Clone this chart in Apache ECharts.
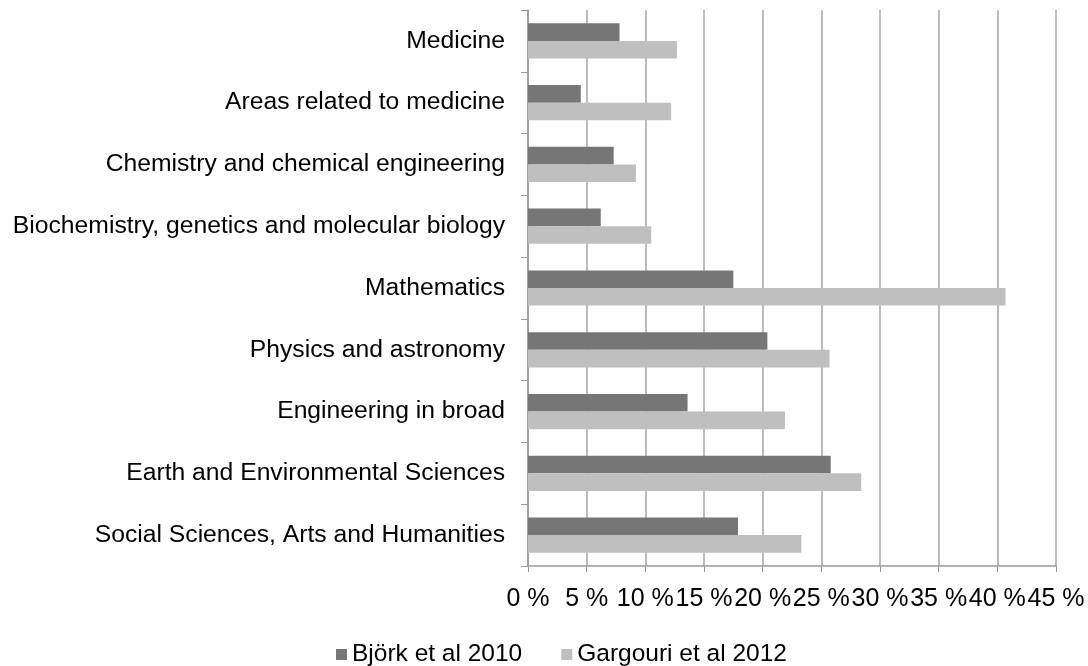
<!DOCTYPE html>
<html>
<head>
<meta charset="utf-8">
<script src="https://cdn.jsdelivr.net/npm/echarts@6/dist/echarts.min.js"></script>
<style>
html,body{margin:0;padding:0;background:#fff;}
#main{width:1088px;height:666px;}
</style>
</head>
<body>
<div id="main"></div>
<script>
// categories from top to bottom
var categories = ['Medicine', 'Areas related to medicine', 'Chemistry and chemical engineering',
    'Biochemistry, genetics and molecular biology', 'Mathematics', 'Physics and astronomy',
    'Engineering in broad', 'Earth and Environmental Sciences', 'Social Sciences, Arts and Humanities'];
var bjork2010 = [7.8, 4.5, 7.3, 6.2, 17.5, 20.4, 13.6, 25.8, 17.9];
var gargouri2012 = [12.7, 12.2, 9.2, 10.5, 40.7, 25.7, 21.9, 28.4, 23.3];
var seriesNames = ['Björk et al 2010', 'Gargouri et al 2012'];

var font = 'Liberation Sans, Arial, sans-serif';
var myChart = echarts.init(document.getElementById('main'));
var option = {
    animation: false,
    textStyle: {fontFamily: font},
    grid: {left: 528, right: 32, top: 10, bottom: 100, containLabel: false},
    legend: {
        top: 637,
        left: 331,
        itemWidth: 11,
        itemHeight: 11,
        itemGap: 39,
        icon: 'rect',
        textStyle: {fontSize: 24.5, color: '#000', fontFamily: font},
        data: seriesNames
    },
    xAxis: {
        type: 'value',
        min: 0,
        max: 45,
        interval: 5,
        axisLine: {show: true, lineStyle: {color: '#999', width: 1.5}},
        axisTick: {show: true, length: 6, lineStyle: {color: '#999'}},
        splitLine: {show: true, lineStyle: {color: '#a6a6a6', width: 1.5}},
        axisLabel: {formatter: '{value} %', fontSize: 25, color: '#000', margin: 21, fontFamily: font}
    },
    yAxis: {
        type: 'category',
        inverse: true,
        data: categories,
        axisLine: {show: true, lineStyle: {color: '#999', width: 1.5}},
        axisTick: {show: true, length: 7, lineStyle: {color: '#999'}},
        axisLabel: {fontSize: 24.7, color: '#000', margin: 23, fontFamily: font, padding: [4, 0, 0, 0]}
    },
    series: [
        {
            name: seriesNames[0],
            type: 'bar',
            data: bjork2010,
            barGap: '0%',
            barCategoryGap: '43%',
            itemStyle: {color: '#767676'}
        },
        {
            name: seriesNames[1],
            type: 'bar',
            data: gargouri2012,
            barGap: '0%',
            barCategoryGap: '43%',
            itemStyle: {color: '#bfbfbf'}
        }
    ]
};
myChart.setOption(option);
</script>
</body>
</html>
